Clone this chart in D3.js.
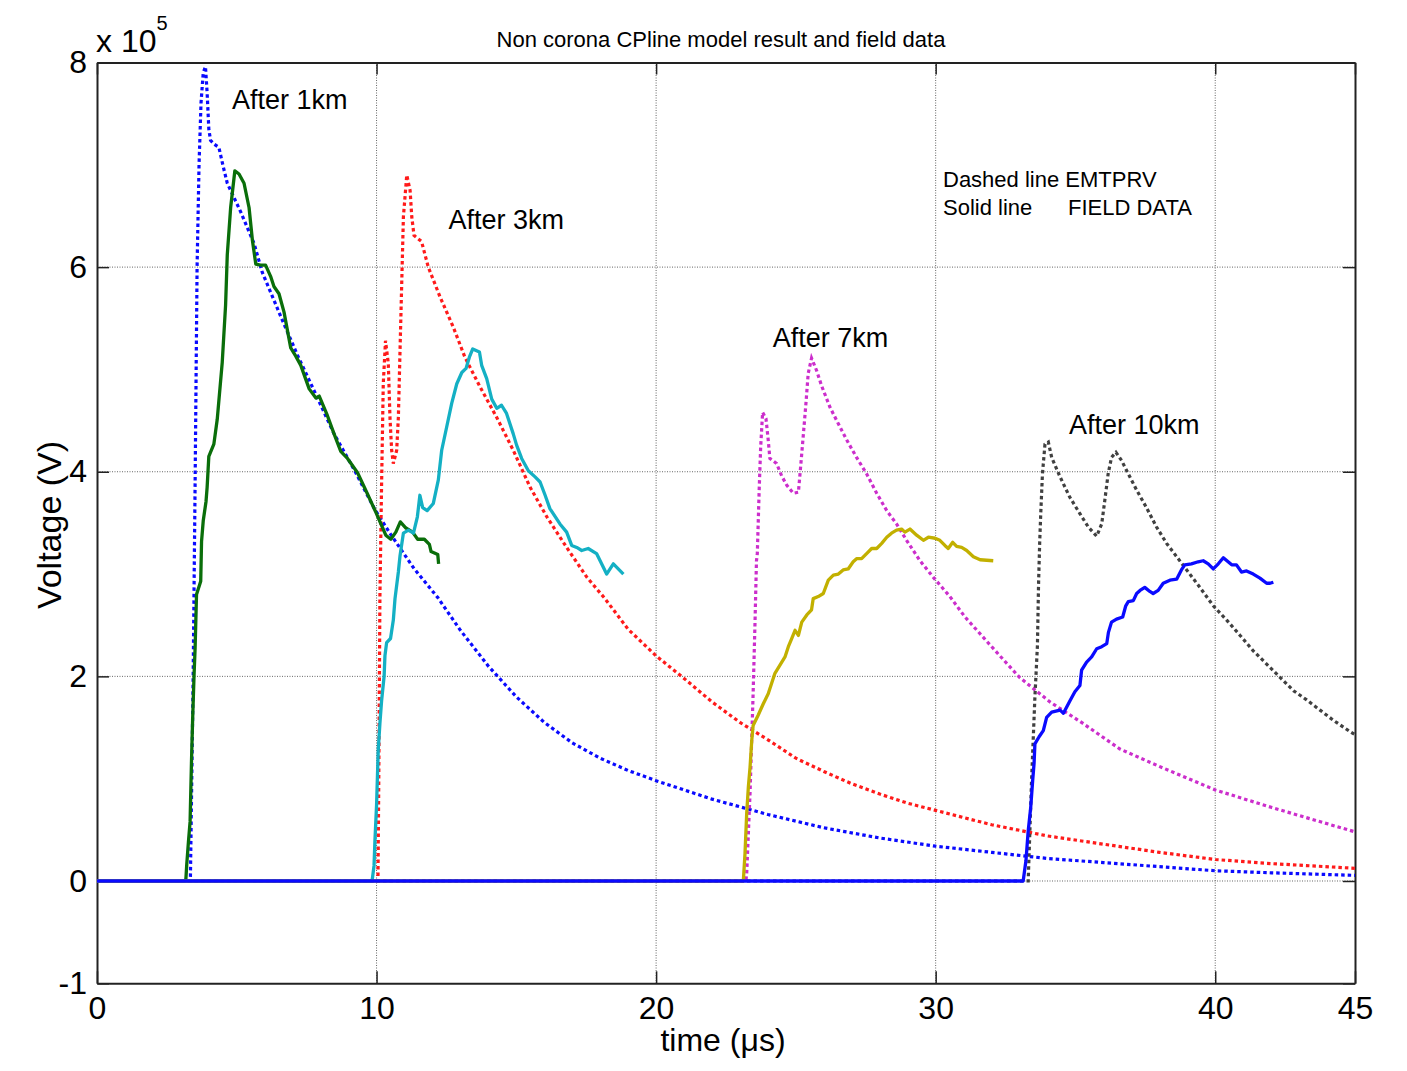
<!DOCTYPE html>
<html>
<head>
<meta charset="utf-8">
<script src="https://cdn.jsdelivr.net/npm/d3@7"></script>
<style>
  body { margin: 0; background: #fff; }
  svg text { font-family: "Liberation Sans", Arial, sans-serif; fill: #000; }
</style>
</head>
<body>
<script>
// values are in units of 1e5 V, time in microseconds
const xTicks = [0, 10, 20, 30, 40, 45];
const yTicks = [-1, 0, 2, 4, 6, 8];

// EMTPRV model (dashed / dotted)
const emtp1km = [[0,0],[3.34,0],[3.44,2.0],[3.51,3.9],[3.58,6.0],[3.65,7.0],[3.72,7.6],[3.8,7.9],[3.88,7.96],[3.94,7.7],[4.0,7.35],[4.06,7.24],[4.2,7.2],[4.36,7.17],[4.5,7.0],[4.66,6.82],[5.14,6.54],[5.62,6.23],[5.91,5.95],[6.57,5.52],[7.17,5.14],[7.77,4.79],[8.48,4.37],[9.2,4.02],[9.92,3.64],[10.5,3.39],[11.35,3.05],[12.19,2.77],[13,2.45],[14,2.1],[15,1.8],[16,1.55],[17,1.35],[18,1.2],[19,1.08],[20,0.98],[22,0.8],[24,0.65],[26,0.52],[28,0.42],[30,0.34],[32,0.28],[34,0.22],[36,0.18],[38,0.14],[40,0.1],[42,0.08],[45,0.055]];
const emtp3km = [[0,0],[10.05,0],[10.08,1.0],[10.12,2.78],[10.18,3.88],[10.24,4.86],[10.32,5.28],[10.42,5.06],[10.48,4.53],[10.54,4.21],[10.6,4.08],[10.72,4.21],[10.78,4.53],[10.84,5.19],[10.9,5.84],[10.96,6.49],[11.08,6.9],[11.2,6.75],[11.26,6.49],[11.34,6.31],[11.61,6.25],[11.85,6.0],[12.27,5.71],[12.75,5.41],[13.16,5.12],[13.7,4.83],[14.3,4.53],[14.89,4.21],[15.49,3.85],[16.09,3.56],[16.8,3.26],[17.52,2.97],[18.17,2.76],[19,2.46],[20,2.2],[21,1.98],[22,1.75],[23,1.55],[24,1.38],[25,1.2],[26,1.07],[27,0.95],[28,0.85],[29,0.76],[30,0.69],[32,0.55],[34,0.44],[36,0.36],[38,0.28],[40,0.21],[42,0.17],[45,0.124]];
const emtp7km = [[0,0],[23.21,0],[23.24,0.07],[23.36,0.86],[23.47,1.83],[23.54,2.55],[23.59,3.13],[23.62,3.2],[23.69,3.85],[23.74,4.24],[23.81,4.58],[23.93,4.52],[24.01,4.31],[24.07,4.13],[24.31,4.08],[24.49,3.96],[24.67,3.87],[24.91,3.79],[25.09,3.8],[25.17,4.05],[25.26,4.34],[25.36,4.67],[25.44,4.96],[25.56,5.11],[25.74,4.99],[25.92,4.84],[26.22,4.63],[26.46,4.5],[26.82,4.31],[27.17,4.14],[27.53,3.98],[27.89,3.79],[28.25,3.62],[28.6,3.49],[28.96,3.33],[29.44,3.13],[29.91,2.97],[30.51,2.78],[31.05,2.58],[32.3,2.2],[33,1.99],[34.09,1.75],[35.27,1.54],[36.59,1.29],[38,1.12],[40,0.89],[42,0.72],[43,0.64],[45,0.48]];
const emtp10km = [[0,0],[33.31,0],[33.43,0.98],[33.55,1.8],[33.64,2.3],[33.68,2.9],[33.72,3.3],[33.76,3.6],[33.82,3.98],[33.91,4.27],[34.03,4.29],[34.15,4.14],[34.45,3.95],[34.8,3.75],[35.16,3.59],[35.46,3.46],[35.76,3.37],[35.94,3.49],[36.05,3.72],[36.17,3.98],[36.29,4.14],[36.45,4.19],[36.65,4.11],[36.89,3.98],[37.19,3.82],[37.54,3.65],[37.9,3.46],[38.26,3.3],[38.62,3.17],[38.98,3.04],[39.45,2.87],[39.93,2.69],[40.41,2.55],[40.89,2.4],[41.36,2.25],[41.84,2.12],[42.32,1.99],[42.8,1.86],[43.27,1.77],[43.75,1.67],[44.23,1.57],[44.82,1.46],[45,1.43]];

// field data (solid)
const field1km = [[0,0],[3.15,0],[3.18,0.02],[3.21,0.16],[3.27,0.38],[3.33,0.58],[3.38,1.17],[3.42,1.57],[3.47,2.0],[3.51,2.28],[3.56,2.8],[3.71,2.93],[3.74,3.32],[3.8,3.52],[3.9,3.71],[3.94,3.85],[4.0,4.15],[4.18,4.27],[4.3,4.51],[4.48,5.07],[4.6,5.63],[4.66,6.12],[4.78,6.58],[4.93,6.94],[5.08,6.91],[5.26,6.82],[5.44,6.58],[5.56,6.26],[5.68,6.03],[5.85,6.02],[6.03,6.02],[6.21,5.91],[6.33,5.81],[6.51,5.74],[6.69,5.56],[6.93,5.21],[7.11,5.13],[7.29,5.04],[7.59,4.81],[7.83,4.72],[7.95,4.74],[8.24,4.55],[8.48,4.37],[8.72,4.2],[8.96,4.13],[9.32,3.99],[9.68,3.78],[9.98,3.6],[10.22,3.45],[10.33,3.38],[10.51,3.34],[10.69,3.41],[10.85,3.51],[11.05,3.45],[11.29,3.41],[11.47,3.34],[11.71,3.34],[11.89,3.29],[11.95,3.22],[12.19,3.19],[12.22,3.1]];
const field3km = [[0,0],[9.84,0],[9.91,0.15],[9.94,0.38],[10.0,0.74],[10.06,1.28],[10.12,1.54],[10.18,1.76],[10.27,2.0],[10.3,2.2],[10.36,2.33],[10.5,2.37],[10.6,2.55],[10.66,2.76],[10.78,3.02],[10.84,3.18],[10.96,3.4],[11.14,3.43],[11.32,3.4],[11.46,3.56],[11.55,3.77],[11.65,3.65],[11.81,3.62],[12.03,3.69],[12.21,3.92],[12.33,4.21],[12.51,4.44],[12.69,4.67],[12.87,4.86],[13.05,4.97],[13.2,5.01],[13.32,5.12],[13.44,5.2],[13.68,5.17],[13.76,5.04],[13.94,4.91],[14.12,4.71],[14.3,4.62],[14.47,4.65],[14.65,4.57],[14.89,4.37],[15.01,4.26],[15.19,4.13],[15.43,4.01],[15.67,3.95],[15.85,3.9],[16.03,3.77],[16.2,3.64],[16.56,3.49],[16.8,3.41],[16.98,3.28],[17.16,3.26],[17.34,3.23],[17.57,3.25],[17.87,3.2],[18.05,3.1],[18.23,3.0],[18.47,3.1],[18.83,3.0]];
const field7km = [[0,0],[23.12,0],[23.18,0.27],[23.24,0.66],[23.3,0.92],[23.36,1.11],[23.42,1.37],[23.47,1.52],[23.65,1.62],[23.83,1.73],[24.01,1.83],[24.13,1.93],[24.25,2.03],[24.43,2.11],[24.61,2.19],[24.73,2.29],[24.85,2.37],[24.97,2.45],[25.09,2.4],[25.21,2.53],[25.39,2.6],[25.56,2.65],[25.62,2.76],[25.8,2.78],[25.98,2.81],[26.16,2.94],[26.34,2.99],[26.52,3.0],[26.69,3.04],[26.87,3.05],[27.05,3.12],[27.17,3.15],[27.35,3.15],[27.53,3.2],[27.71,3.25],[27.89,3.25],[28.07,3.3],[28.25,3.36],[28.42,3.4],[28.6,3.43],[28.78,3.44],[28.9,3.41],[29.08,3.44],[29.32,3.38],[29.56,3.33],[29.74,3.36],[29.98,3.35],[30.15,3.33],[30.33,3.28],[30.45,3.25],[30.61,3.31],[30.75,3.27],[30.93,3.26],[31.11,3.23],[31.35,3.17],[31.59,3.14],[32.06,3.13]];
const field10km = [[0,0],[33.13,0],[33.23,0.2],[33.31,0.49],[33.4,0.72],[33.47,0.98],[33.52,1.15],[33.55,1.34],[33.7,1.41],[33.85,1.47],[33.97,1.6],[34.15,1.65],[34.45,1.67],[34.57,1.64],[34.8,1.76],[34.98,1.85],[35.16,1.91],[35.22,2.06],[35.4,2.14],[35.58,2.19],[35.76,2.27],[35.94,2.29],[36.12,2.32],[36.18,2.43],[36.29,2.53],[36.47,2.56],[36.69,2.58],[36.8,2.69],[36.89,2.73],[37.07,2.74],[37.19,2.81],[37.31,2.84],[37.48,2.87],[37.66,2.83],[37.78,2.81],[37.96,2.84],[38.14,2.91],[38.38,2.94],[38.62,2.95],[38.79,3.04],[38.91,3.09],[39.15,3.1],[39.39,3.12],[39.57,3.13],[39.75,3.1],[39.93,3.05],[40.11,3.1],[40.29,3.16],[40.59,3.09],[40.76,3.09],[40.94,3.02],[41.12,3.03],[41.36,3.0],[41.6,2.96],[41.84,2.91],[41.96,2.91],[42.08,2.92]];

const labels = [
  { text: "After 1km", t: 4.83, v: 7.55 },
  { text: "After 3km", t: 12.57, v: 6.37 },
  { text: "After 7km", t: 24.17, v: 5.22 },
  { text: "After 10km", t: 34.77, v: 4.37 }
];

const W = 1407, H = 1071;
const x = d3.scaleLinear().domain([0, 45]).range([97, 1355]);
const y = d3.scaleLinear().domain([-1, 8]).range([983.3, 62.5]);

const svg = d3.select("body").append("svg")
  .attr("width", W).attr("height", H);

svg.append("rect").attr("width", W).attr("height", H).attr("fill", "#fff");

// grid
const grid = svg.append("g").attr("class", "grid")
  .attr("stroke", "#666").attr("stroke-width", 1).attr("stroke-dasharray", "1,1.5");
grid.selectAll(".gx").data([10, 20, 30, 40]).enter().append("line")
  .attr("x1", d => x(d)).attr("x2", d => x(d))
  .attr("y1", y(8)).attr("y2", y(-1));
grid.selectAll(".gy").data([0, 2, 4, 6]).enter().append("line")
  .attr("x1", x(0)).attr("x2", x(45))
  .attr("y1", d => y(d)).attr("y2", d => y(d));

// axes
function styleAxis(g) {
  g.select(".domain").attr("stroke", "#222").attr("stroke-width", 2);
  g.selectAll(".tick line").attr("stroke", "#222").attr("stroke-width", 1.5);
  g.selectAll("text").attr("font-size", 32).attr("fill", "#000")
    .attr("font-family", "Liberation Sans, Arial, sans-serif");
}
svg.append("g").attr("transform", `translate(${x(0)},0)`)
  .call(d3.axisLeft(y).tickValues(yTicks).tickSizeInner(-12).tickSizeOuter(0).tickPadding(10).tickFormat(d => String(d)))
  .call(styleAxis);
svg.append("g").attr("transform", `translate(${x(45)},0)`)
  .call(d3.axisRight(y).tickValues(yTicks).tickSizeInner(-12).tickSizeOuter(0).tickFormat(""))
  .call(styleAxis);
svg.append("g").attr("transform", `translate(0,${y(-1)})`)
  .call(d3.axisBottom(x).tickValues(xTicks).tickSizeInner(-12).tickSizeOuter(0).tickPadding(13).tickFormat(d => String(d)))
  .call(styleAxis);
svg.append("g").attr("transform", `translate(0,${y(8)})`)
  .call(d3.axisTop(x).tickValues(xTicks).tickSizeInner(-12).tickSizeOuter(0).tickFormat(""))
  .call(styleAxis);

// series
const line = d3.line().x(d => x(d[0])).y(d => y(d[1]));
const plotArea = svg.append("g");

const dotted = [
  { data: emtp1km, color: "#0a0aff" },
  { data: emtp3km, color: "#ff1a1a" },
  { data: emtp7km, color: "#cc2ecc" },
  { data: emtp10km, color: "#404040" }
];
const solid = [
  { data: field1km, color: "#0a6e0a" },
  { data: field3km, color: "#14b0c4" },
  { data: field7km, color: "#c2b000" },
  { data: field10km, color: "#0a0aff" }
];

plotArea.selectAll(".dot").data(dotted).enter().append("path")
  .attr("d", d => line(d.data))
  .attr("fill", "none").attr("stroke", d => d.color)
  .attr("stroke-width", 3.2).attr("stroke-dasharray", "3.5,3");
plotArea.selectAll(".sol").data(solid).enter().append("path")
  .attr("d", d => line(d.data))
  .attr("fill", "none").attr("stroke", d => d.color)
  .attr("stroke-width", 3.3).attr("stroke-linejoin", "round");

// annotations
svg.selectAll(".ann").data(labels).enter().append("text")
  .attr("x", d => x(d.t)).attr("y", d => y(d.v))
  .attr("font-size", 27).text(d => d.text);

svg.append("text").attr("x", 943).attr("y", 187).attr("font-size", 22).text("Dashed line EMTPRV");
svg.append("text").attr("x", 943).attr("y", 215).attr("font-size", 22).text("Solid line");
svg.append("text").attr("x", 1068).attr("y", 215).attr("font-size", 22).text("FIELD DATA");

// title and labels
svg.append("text").attr("x", 721).attr("y", 47).attr("text-anchor", "middle")
  .attr("font-size", 22).text("Non corona CPline model result and field data");

const mult = svg.append("text").attr("x", 96).attr("y", 52).attr("font-size", 32);
mult.append("tspan").text("x 10");
mult.append("tspan").attr("dy", -22).attr("font-size", 20).text("5");

svg.append("text").attr("transform", "translate(61,525) rotate(-90)")
  .attr("text-anchor", "middle").attr("font-size", 34).text("Voltage (V)");
svg.append("text").attr("x", 723).attr("y", 1051).attr("text-anchor", "middle")
  .attr("font-size", 32).text("time (μs)");
</script>
</body>
</html>
